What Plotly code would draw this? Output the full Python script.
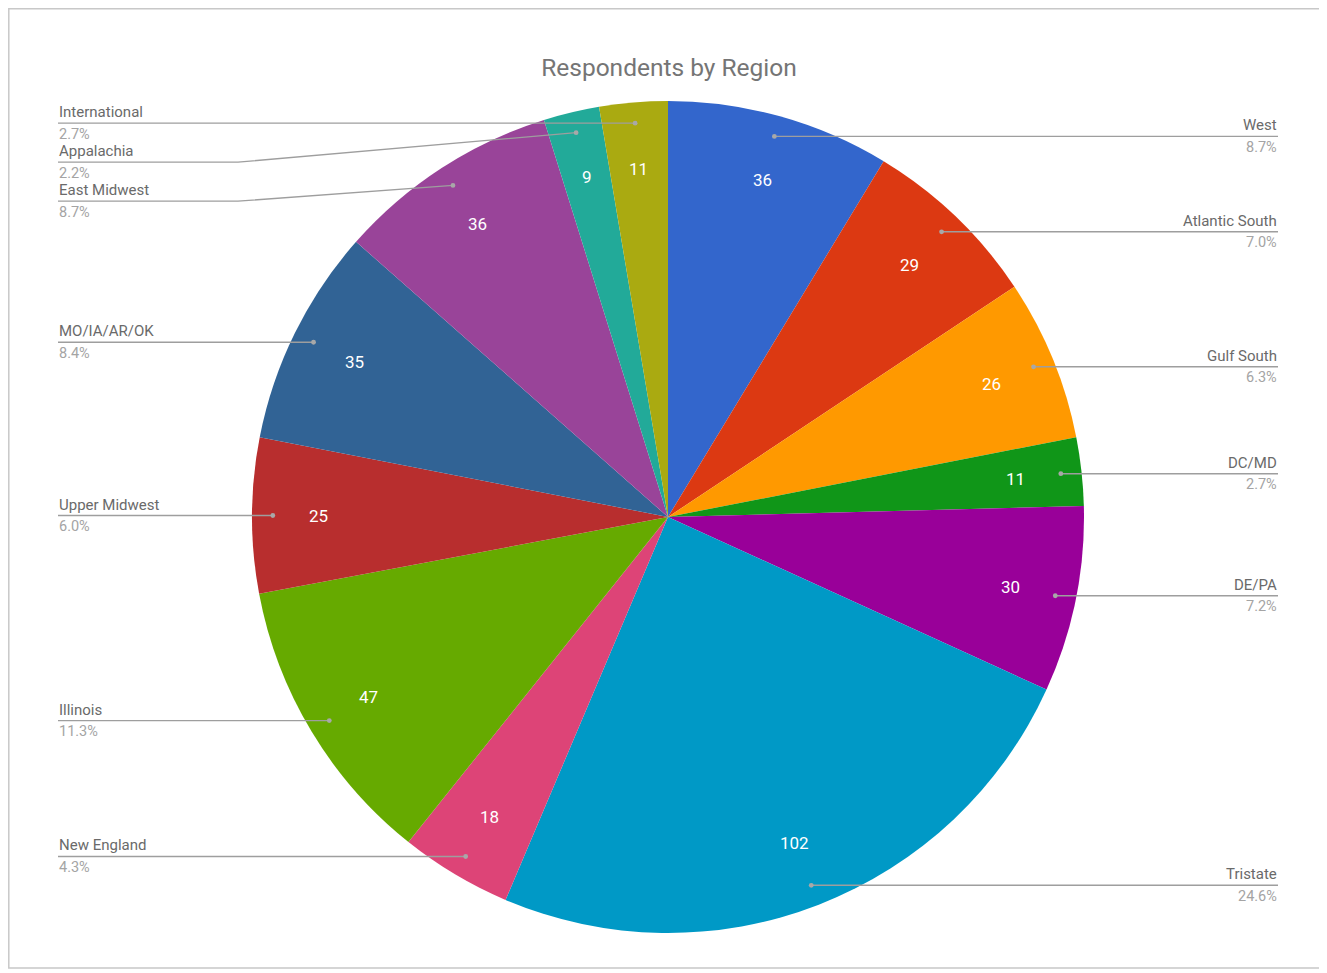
import math
import plotly.graph_objects as go

# ---------------- data ----------------
regions = ["West", "Atlantic South", "Gulf South", "DC/MD", "DE/PA", "Tristate",
           "New England", "Illinois", "Upper Midwest", "MO/IA/AR/OK",
           "East Midwest", "Appalachia", "International"]
respondents = [36, 29, 26, 11, 30, 102, 18, 47, 25, 35, 36, 9, 11]
colors = ["#3366cc", "#dc3912", "#ff9900", "#109618", "#990099", "#0099c6",
          "#dd4477", "#66aa00", "#b82e2e", "#316395", "#994499", "#22aa99",
          "#aaaa11"]
title_text = "Respondents by Region"

# ---------------- geometry (page pixels) ----------------
OFF = 8                      # default page margin around the plot div
W, H = 1327 - OFF, 973 - OFF
CX, CY, R = 668, 517, 416
LEFT_X, RIGHT_X = 58, 1278
ELBOW_LEFT, ELBOW_RIGHT = 238, 1098
SPACING = 39
FONT = "Roboto"


def fx(x):
    return (x - OFF) / W


def fy(y):
    return 1 - (y - OFF) / H


total = sum(respondents)
fig = go.Figure()
fig.add_trace(go.Pie(
    labels=regions, values=respondents, sort=False, direction="clockwise",
    rotation=0, marker=dict(colors=colors, line=dict(width=0)),
    textinfo="none", showlegend=False,
    domain=dict(x=[fx(CX - R), fx(CX + R)], y=[fy(CY + R), fy(CY - R)]),
    hovertemplate="%{label}<br>%{value} (%{percent})<extra></extra>",
))

shapes = []
annotations = []

# slice mid angles
cum = 0
items = []
for name, v in zip(regions, respondents):
    mid = (cum + v / 2) / total * 2 * math.pi
    cum += v
    dotx = CX + 0.95 * R * math.sin(mid)
    doty = CY - 0.95 * R * math.cos(mid)
    vx = CX + 0.84 * R * math.sin(mid)
    vy = CY - 0.84 * R * math.cos(mid)
    side = "right" if mid < math.pi else "left"
    items.append(dict(name=name, v=v, dotx=dotx, doty=doty, vx=vx, vy=vy,
                      side=side, pct=v / total * 100))

# value labels
for it in items:
    annotations.append(dict(x=fx(it["vx"]), y=fy(it["vy"]), xref="paper", yref="paper",
                            text=str(it["v"]), showarrow=False,
                            xanchor="center", yanchor="middle",
                            font=dict(family=FONT, size=17, color="white")))

# outside labels with collision push-down
for side in ("left", "right"):
    group = sorted([it for it in items if it["side"] == side], key=lambda d: d["doty"])
    last = -1e9
    for it in group:
        ly = max(it["doty"], last + SPACING)
        last = ly
        it["ly"] = ly

for it in items:
    ly = it["ly"]
    if it["side"] == "left":
        ex, tx, anchor = ELBOW_LEFT, LEFT_X, "left"
    else:
        ex, tx, anchor = ELBOW_RIGHT, RIGHT_X, "right"
    if abs(ly - it["doty"]) < 0.5:
        path = "M {} {} L {} {}".format(fx(it["dotx"]), fy(it["doty"]), fx(tx), fy(ly))
    else:
        path = "M {} {} L {} {} L {} {}".format(
            fx(it["dotx"]), fy(it["doty"]), fx(ex), fy(ly), fx(tx), fy(ly))
    shapes.append(dict(type="path", xref="paper", yref="paper", path=path,
                       line=dict(color="#9e9e9e", width=1.4), layer="above"))
    rr = 2.4
    shapes.append(dict(type="circle", xref="paper", yref="paper",
                       x0=fx(it["dotx"] - rr), x1=fx(it["dotx"] + rr),
                       y0=fy(it["doty"] + rr), y1=fy(it["doty"] - rr),
                       fillcolor="#a8a8a8", line=dict(width=0), layer="above"))
    annotations.append(dict(x=fx(tx), y=fy(ly - 11), xref="paper", yref="paper",
                            text=it["name"], showarrow=False, xanchor=anchor,
                            yanchor="middle", borderpad=0,
                            font=dict(family=FONT, size=15, color="#6a6a6a")))
    annotations.append(dict(x=fx(tx), y=fy(ly + 11), xref="paper", yref="paper",
                            text="{:.1f}%".format(it["pct"]), showarrow=False,
                            xanchor=anchor, yanchor="middle", borderpad=0,
                            font=dict(family=FONT, size=14.5, color="#a4a4a4")))

# outer border
shapes.append(dict(type="rect", xref="paper", yref="paper",
                   x0=fx(OFF + 0.8), x1=fx(1323), y0=fy(968), y1=fy(OFF + 0.8),
                   line=dict(color="#c8c8c8", width=1.5), layer="below"))

fig.update_layout(
    width=W, height=H, margin=dict(l=0, r=0, t=0, b=0),
    paper_bgcolor="white", plot_bgcolor="white",
    title=dict(text=title_text, x=fx(669), xanchor="center",
               y=fy(67), yanchor="middle",
               font=dict(family=FONT, size=24.5, color="#757575")),
    shapes=shapes, annotations=annotations,
    font=dict(family=FONT),
)

fig.write_html("out.html")
